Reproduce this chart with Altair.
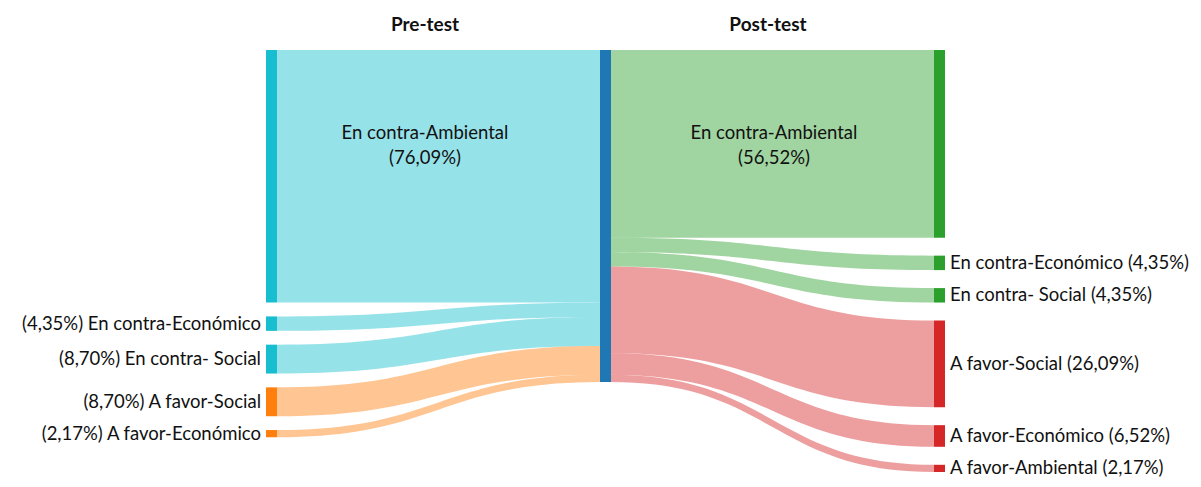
import altair as alt
import pandas as pd

# ---------------- data ----------------
pre_labels = ["En contra-Ambiental", "En contra-Económico", "En contra- Social",
              "A favor-Social", "A favor-Económico"]
pre_values = [76.09, 4.35, 8.70, 8.70, 2.17]
pre_groups = ["En contra", "En contra", "En contra", "A favor", "A favor"]

post_labels = ["En contra-Ambiental", "En contra-Económico", "En contra- Social",
               "A favor-Social", "A favor-Económico", "A favor-Ambiental"]
post_values = [56.52, 4.35, 4.35, 26.09, 6.52, 2.17]
post_groups = ["En contra", "En contra", "En contra", "A favor", "A favor", "A favor"]

column_titles = ["Pre-test", "Post-test"]

# ---------------- layout (page pixels) ----------------
W, H = 1185, 471
M = 8
TOP = 50.0
K = 3.32          # px per percentage point
NODE_W = 11
COL_X = [266, 600, 934]
GAP_PRE = 13.8
GAP_POST = 18.0
TITLE_X = [425, 768]
TITLE_Y = 25
BIG_X = [425, 774]
BIG_Y = 133       # first line of the in-flow labels
FONT = "Lato"
FS = 18.5
FS_TITLE = 19


def pct(v):
    return f"({v:.2f}%)".replace(".", ",")


def stack(values, gap):
    out, y = [], TOP
    for v in values:
        out.append((y, y + v * K))
        y += v * K + gap
    return out


pre_pos = stack(pre_values, GAP_PRE)
post_pos = stack(post_values, GAP_POST)
mid_total = sum(pre_values)

nodes = []
texts = []
for i, (lab, v, g) in enumerate(zip(pre_labels, pre_values, pre_groups)):
    y0, y1 = pre_pos[i]
    nodes.append(dict(x0=COL_X[0], x1=COL_X[0] + NODE_W, y0=y0, y1=y1, kind="pre|" + g))
    if i == 0:
        texts.append(dict(x=BIG_X[0], y=BIG_Y, label=f"{lab}\n{pct(v)}", align="center"))
    else:
        texts.append(dict(x=COL_X[0] - 5, y=(y0 + y1) / 2, label=f"{pct(v)} {lab}", align="right"))
nodes.append(dict(x0=COL_X[1], x1=COL_X[1] + NODE_W, y0=TOP, y1=TOP + mid_total * K, kind="mid"))
for i, (lab, v, g) in enumerate(zip(post_labels, post_values, post_groups)):
    y0, y1 = post_pos[i]
    nodes.append(dict(x0=COL_X[2], x1=COL_X[2] + NODE_W, y0=y0, y1=y1, kind="post|" + g))
    if i == 0:
        texts.append(dict(x=BIG_X[1], y=BIG_Y, label=f"{lab}\n{pct(v)}", align="center"))
    else:
        texts.append(dict(x=COL_X[2] + NODE_W + 5, y=(y0 + y1) / 2, label=f"{lab} {pct(v)}", align="left"))

links = []
cy = TOP
for i, v in enumerate(pre_values):
    sy0, sy1 = pre_pos[i]
    links.append(dict(link=f"a{i}", x0=COL_X[0] + NODE_W, x1=COL_X[1], sy0=sy0, sy1=sy1,
                      ty0=cy, ty1=cy + v * K, kind="pre|" + pre_groups[i]))
    cy += v * K
cy = TOP
for i, v in enumerate(post_values):
    ty0, ty1 = post_pos[i]
    links.append(dict(link=f"b{i}", x0=COL_X[1] + NODE_W, x1=COL_X[2], sy0=cy, sy1=cy + v * K,
                      ty0=ty0, ty1=ty1, kind="post|" + post_groups[i]))
    cy += v * K

nodes_df = pd.DataFrame(nodes)
links_df = pd.DataFrame(links)
text_df = pd.DataFrame(texts)
title_df = pd.DataFrame(dict(x=TITLE_X, y=[TITLE_Y] * 2, label=column_titles))

xscale = alt.Scale(domain=[M, M + W], nice=False, zero=False)
yscale = alt.Scale(domain=[M, M + H], nice=False, zero=False, reverse=True)
cscale = alt.Scale(
    domain=["pre|En contra", "pre|A favor", "mid", "post|En contra", "post|A favor"],
    range=["#17becf", "#ff7f0e", "#1f77b4", "#2ca02c", "#d62728"],
)

link_layer = (
    alt.Chart(links_df)
    .transform_calculate(t="sequence(0, 1.0001, 0.025)")
    .transform_flatten(["t"])
    .transform_calculate(xm="(datum.x0 + datum.x1) / 2")
    .transform_calculate(
        bx="pow(1-datum.t,3)*datum.x0 + 3*pow(1-datum.t,2)*datum.t*datum.xm"
           " + 3*(1-datum.t)*pow(datum.t,2)*datum.xm + pow(datum.t,3)*datum.x1"
    )
    .transform_calculate(w="3*(1-datum.t)*pow(datum.t,2) + pow(datum.t,3)")
    .transform_calculate(ya="datum.sy0 + (datum.ty0 - datum.sy0) * datum.w")
    .transform_calculate(yb="datum.sy1 + (datum.ty1 - datum.sy1) * datum.w")
    .mark_area(opacity=0.45, interpolate="linear")
    .encode(
        x=alt.X("bx:Q", scale=xscale, axis=None),
        y=alt.Y("ya:Q", scale=yscale, axis=None),
        y2="yb:Q",
        color=alt.Color("kind:N", scale=cscale, legend=None),
        detail="link:N",
    )
)

node_layer = alt.Chart(nodes_df).mark_rect().encode(
    x=alt.X("x0:Q", scale=xscale, axis=None),
    x2="x1:Q",
    y=alt.Y("y0:Q", scale=yscale, axis=None),
    y2="y1:Q",
    color=alt.Color("kind:N", scale=cscale, legend=None),
)


def text_layer(al):
    return alt.Chart(text_df[text_df["align"] == al]).mark_text(
        font=FONT, fontSize=FS, color="#111111", baseline="middle",
        lineBreak="\n", lineHeight=25, align=al
    ).encode(
        x=alt.X("x:Q", scale=xscale, axis=None),
        y=alt.Y("y:Q", scale=yscale, axis=None),
        text="label:N",
    )


title_layer = alt.Chart(title_df).mark_text(
    font=FONT, fontSize=FS_TITLE, fontWeight="bold", color="#111111", baseline="middle", align="center"
).encode(
    x=alt.X("x:Q", scale=xscale, axis=None),
    y=alt.Y("y:Q", scale=yscale, axis=None),
    text="label:N",
)

chart = (
    alt.layer(link_layer, node_layer, text_layer("center"), text_layer("left"),
              text_layer("right"), title_layer)
    .properties(width=W, height=H, padding=0,
                autosize=alt.AutoSizeParams(type="none"),
                background="white")
    .configure_view(stroke=None)
)

chart.save("out.html", embed_options={"renderer": "svg", "actions": False})
